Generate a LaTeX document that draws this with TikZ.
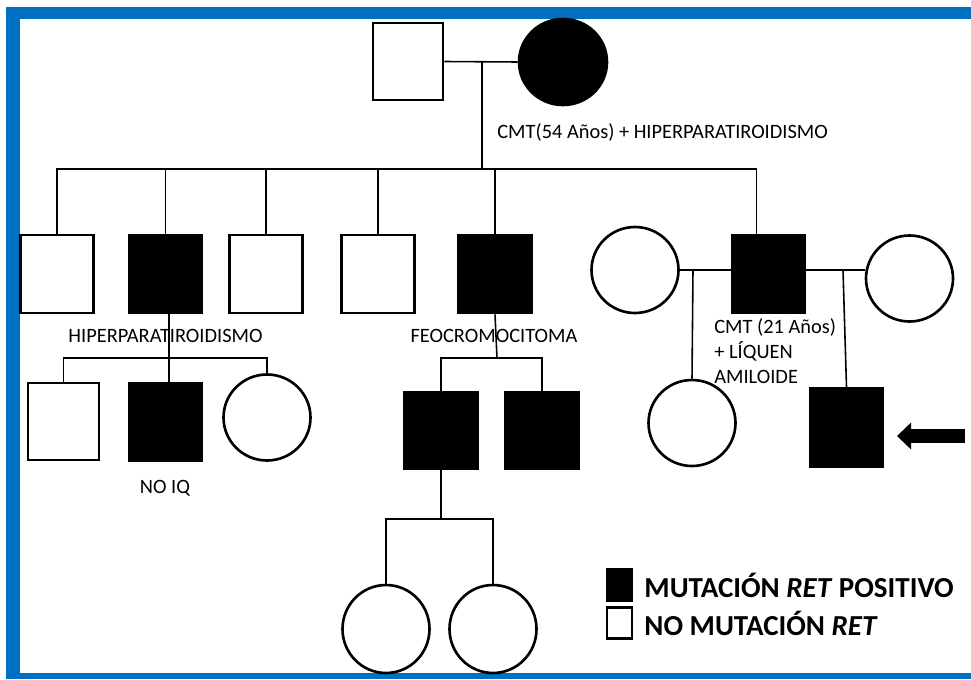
\documentclass[tikz,border=0pt]{standalone}
\usepackage{fontspec}
\setmainfont{Carlito}
\usetikzlibrary{shapes.geometric, arrows.meta, positioning}
\definecolor{framecolor}{RGB}{0, 112, 192}

\begin{document}
\begin{tikzpicture}[x=0.2mm, y=-0.2mm,
    male/.style={draw, line width=1.5pt, minimum width=14.6mm, minimum height=15.6mm, inner sep=0pt},
    female/.style={draw, ellipse, line width=1.5pt, minimum width=17.4mm, minimum height=17.2mm, inner sep=0pt},
    carrier/.style={fill=black},
    link/.style={line width=0.9pt},
    note/.style={font=\fontsize{11.6}{14.2}\selectfont, inner sep=0pt},
    keybox/.style={draw, line width=1.2pt, minimum width=5mm, minimum height=6.2mm, inner sep=0pt},
    keytext/.style={font=\fontsize{16.5}{20}\selectfont\bfseries, inner sep=0pt}
]
\useasboundingbox (0,0) rectangle (971,679);

% Frame
\fill[framecolor] (6,7) rectangle (971,19);
\fill[framecolor] (6,7) rectangle (20,679);
\fill[framecolor] (6,673) rectangle (971,679);

% First generation
\node[male, minimum width=14mm, minimum height=15.4mm] (gf) at (408,61.5) {};
\node[female, carrier, minimum width=17.6mm] (gm) at (563,62) {};
\coordinate (couple1) at (482,61.5);
\node[note, anchor=west] at (497,132) {CMT(54 Años) + HIPERPARATIROIDISMO};

% Second generation
\coordinate (sib) at (482,169);
\node[male] (s1) at (57,274) {};
\node[male, carrier] (s2) at (165.5,274) {};
\node[male] (s3) at (266,274) {};
\node[male] (s4) at (378,274) {};
\node[male, carrier] (s5) at (495,274) {};
\node[female] (w1) at (635,270) {};
\node[male, carrier] (s6) at (768.5,274) {};
\node[female] (w2) at (909.5,278.5) {};
\coordinate (m1) at (693,270);
\coordinate (m2) at (843,270);

\node[note] at (165.5,336) {HIPERPARATIROIDISMO};
\node[note] at (494,336) {FEOCROMOCITOMA};
\node[note, anchor=north west, align=left] at (714,318) {CMT (21 Años)\\+ LÍQUEN\\AMILOIDE};

% Third generation
\coordinate (sib2) at (169,358);
\node[male, minimum width=14.2mm, minimum height=15.4mm] (c1) at (63.5,421.5) {};
\node[male, carrier] (c2) at (165.5,422) {};
\node[female] (c3) at (267,417.5) {};
\node[note] at (165,488) {NO IQ};

\coordinate (sib3) at (497,358);
\node[male, carrier, minimum height=15.4mm] (d1) at (441,430.5) {};
\node[male, carrier, minimum height=15.4mm] (d2) at (542,430.5) {};

\node[female] (f1) at (692,423) {};
\node[male, carrier] (f2) at (846.5,427.5) {};

% Fourth generation
\coordinate (sib4) at (441,519);
\node[female, minimum height=17.6mm] (e1) at (386,629) {};
\node[female, minimum height=17.6mm] (e2) at (493,629) {};

% Lines of descent
\draw[link] (gf.east) -- (gm.west);
\draw[link] (couple1) -- (sib);
\draw[link] (s1.north) -- (s1.north |- sib) -- ([xshift=-2.4mm]s6.north |- sib) -- ([xshift=-2.4mm]s6.north);
\foreach \n in {s2,s3,s4,s5}
    \draw[link] (\n.north) -- (\n.north |- sib);
\draw[link] (w1.east) -- (s6.west |- w1.east);
\draw[link] (s6.east |- w1.east) -- (w2.west |- w1.east);
\draw[link] (m1) -- (f1.north);
\draw[link] (m2) -- (f2.north);

\draw[link] ([xshift=0.7mm]s2.south) -- ([xshift=0.7mm]c2.north);
\draw[link] (c1.north) -- (c1.north |- sib2) -- (c3.north |- sib2) -- (c3.north);
\draw[link] (s5.south) -- (sib3);
\draw[link] (d1.north) -- (d1.north |- sib3) -- (d2.north |- sib3) -- (d2.north);
\draw[link] (d1.south) -- (sib4);
\draw[link] (e1.north) -- (e1.north |- sib4) -- (e2.north |- sib4) -- (e2.north);

% Proband
\coordinate (ptail) at (965,436);
\coordinate (ptip) at (897,436);
\draw[-{Triangle[length=2.8mm, width=5.2mm]}, line width=2.8mm] (ptail) -- (ptip);

% Legend
\node[keybox, fill=black] (keypos) at (619.5,585) {};
\node[keybox] (keyneg) at (619.5,623) {};
\node[keytext, right=2.2mm of keypos] {MUTACIÓN \textit{RET} POSITIVO};
\node[keytext, right=2.2mm of keyneg] {NO MUTACIÓN \textit{RET}};

\end{tikzpicture}
\end{document}
